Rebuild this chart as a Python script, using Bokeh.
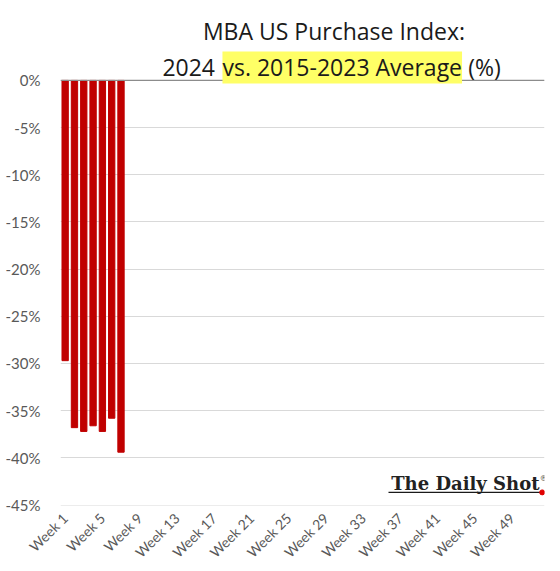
import math
from bokeh.plotting import figure
from bokeh.models import FixedTicker, Label, Span, Range1d
from bokeh.embed import file_html
from bokeh.resources import INLINE

# ---- data ----
weeks = list(range(1, 53))
values = [-29.7, -36.8, -37.2, -36.6, -37.2, -35.8, -39.4]
bar_weeks = weeks[:len(values)]
x_tick_weeks = list(range(1, 53, 4))
x_tick_labels = [f"Week {w}" for w in x_tick_weeks]
y_ticks = [0, -5, -10, -15, -20, -25, -30, -35, -40, -45]
y_tick_labels = [f"{t}%" for t in y_ticks]

title_line1 = "MBA US Purchase Index:"
title_a = "2024"
title_b = "vs. 2015-2023 Average"
title_c = "(%)"

p = figure(frame_width=484, frame_height=505, output_backend="svg", toolbar_location=None,
           x_range=Range1d(0.5, 52.5), y_range=Range1d(-45.05, 8.47),
           min_border_left=60, min_border_right=16, min_border_top=0,
           min_border_bottom=66)
p.outline_line_color = None
p.background_fill_color = "white"
p.border_fill_color = "white"

p.vbar(x=bar_weeks, top=values, bottom=0, width=0.68, color="#C00000")

# zero line
p.add_layout(Span(location=0, dimension="width", line_color="#8c8c8c", line_width=1.3))

# axes
p.yaxis.ticker = FixedTicker(ticks=y_ticks)
p.yaxis.major_label_overrides = {t: l for t, l in zip(y_ticks, y_tick_labels)}
p.yaxis.axis_line_color = None
p.yaxis.major_tick_line_color = None
p.yaxis.minor_tick_line_color = None
p.yaxis.major_label_text_color = "#595959"
p.yaxis.major_label_text_font = "Lato"
p.yaxis.major_label_text_font_size = "15px"
p.yaxis.major_label_standoff = 14

p.xaxis.ticker = FixedTicker(ticks=x_tick_weeks)
p.xaxis.major_label_overrides = {t: l for t, l in zip(x_tick_weeks, x_tick_labels)}
p.xaxis.major_label_orientation = math.pi / 4
p.xaxis.axis_line_color = None
p.xaxis.major_tick_line_color = None
p.xaxis.minor_tick_line_color = None
p.xaxis.major_label_text_color = "#595959"
p.xaxis.major_label_text_font = "Lato"
p.xaxis.major_label_text_font_size = "14px"
p.xaxis.major_label_standoff = 4

p.xgrid.grid_line_color = None
p.ygrid.grid_line_color = "#d9d9d9"
p.ygrid.grid_line_width = 1

# title
tfont = "Open Sans"
tsize = "23px"
tcol = "#1a1a1a"
p.add_layout(Label(x=29.88, y=5.19, text=title_line1, text_align="center",
                   text_baseline="alphabetic", text_font=tfont, text_font_size=tsize,
                   text_color=tcol))
p.add_layout(Label(x=17.1, y=1.38, text=title_a, text_align="right",
                   text_baseline="alphabetic", text_font=tfont, text_font_size=tsize,
                   text_color=tcol))
p.add_layout(Label(x=17.9, y=1.38, text=title_b, text_align="left",
                   text_baseline="alphabetic", text_font=tfont, text_font_size=tsize,
                   text_color=tcol, background_fill_color="#FFFF66"))
p.add_layout(Label(x=44.3, y=1.38, text=title_c, text_align="left",
                   text_baseline="alphabetic", text_font=tfont, text_font_size=tsize,
                   text_color=tcol))

# logo
p.add_layout(Label(x=51.96, y=-42.71, text="The Daily Shot", text_align="right",
                   text_baseline="alphabetic", text_font="DejaVu Serif",
                   text_font_style="bold", text_font_size="18px", text_color="#222222"))
p.add_layout(Label(x=52.0, y=-42.18, text="®", text_align="left",
                   text_baseline="alphabetic", text_font="DejaVu Serif",
                   text_font_size="8px", text_color="#1a1a1a"))
p.segment(x0=[35.74], y0=[-43.66], x1=[52.2], y1=[-43.66], line_color="#1a1a1a", line_width=1.2)
p.scatter(x=[52.25], y=[-43.66], size=5, color="#E00000")

open("out.html", "w").write(file_html(p, INLINE))
